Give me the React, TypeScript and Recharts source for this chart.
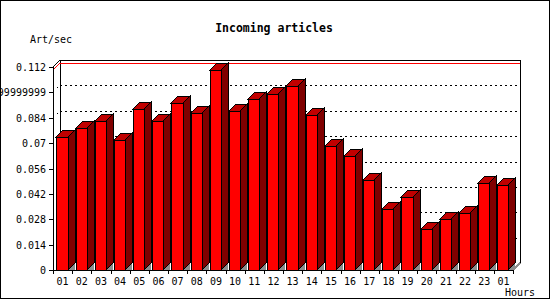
import React from 'react';
import { BarChart, Bar, XAxis, YAxis, ReferenceLine, ReferenceArea } from 'recharts';

const HOURS = ['01','02','03','04','05','06','07','08','09','10','11','12','13','14','15','16','17','18','19','20','21','22','23','01'];
const RATES = [0.0733,0.0783,0.0823,0.0718,0.0888,0.0823,0.0923,0.0867,0.1105,0.0879,0.0945,0.0972,0.1017,0.0856,0.0685,0.0630,0.0497,0.0337,0.0403,0.0227,0.0280,0.0315,0.0481,0.0470];
const Y_TICKS = [0,0.014,0.028,0.042,0.056,0.07,0.084,0.098,0.112];
const Y_TICK_LABELS = ['0','0.014','0.028','0.042','0.056','0.07','0.084','0.09799999999999999','0.112'];
const TITLE = 'Incoming articles';
const Y_UNIT = 'Art/sec';
const X_UNIT = 'Hours';

const W = 550;
const H = 300;
const MARGIN = { top: 67, right: 37, bottom: 10, left: 0 };
const Y_AXIS_W = 53;
const X_AXIS_H = 20;
const PLOT_LEFT = MARGIN.left + Y_AXIS_W;
const PLOT_W = W - PLOT_LEFT - MARGIN.right;
const PLOT_BOTTOM = H - MARGIN.bottom - X_AXIS_H;
const DEPTH = 7;
const FONT = "'DejaVu Sans Mono', 'Liberation Mono', monospace";
const MAX_RATE = Math.max(...RATES);

const data = RATES.map((rate, i) => ({ slot: i, rate }));

function Bar3D(props: any) {
  const { x, y, width, height } = props;
  if (x == null || y == null) return null;
  const fx = Math.round(x + width * 0.177);
  const fxR = Math.round(x + width * 0.767);
  const top = Math.round(y);
  const yb = Math.round(y + height);
  const D = DEPTH;
  return (
    <g shapeRendering="crispEdges">
      <polygon points={`${fxR},${yb} ${fxR + D},${yb - D} ${fxR + D},${yb}`} fill="#8c8c8c" stroke="none" />
      <polygon points={`${fxR},${top} ${fxR + D},${top - D} ${fxR + D},${yb - D} ${fxR},${yb}`} fill="#800000" stroke="#000" strokeWidth={1} />
      <polygon points={`${fx},${top} ${fx + D},${top - D} ${fxR + D},${top - D} ${fxR},${top}`} fill="#c00000" stroke="#000" strokeWidth={1} />
      <rect x={fx} y={top} width={fxR - fx} height={yb - top} fill="#ff0000" stroke="#000" strokeWidth={1} />
    </g>
  );
}

function BackWall(props: any) {
  const { x, y, width, height } = props;
  if (x == null) return null;
  const D = DEPTH;
  const l = Math.round(x), t = Math.round(y), r = Math.round(x + width), b = Math.round(y + height);
  return (
    <g shapeRendering="crispEdges" fill="none">
      <line x1={l + D} y1={t - D} x2={r + D} y2={t - D} stroke="#000" />
      <line x1={r + D} y1={t - D} x2={r + D} y2={b - D} stroke="#000" />
      <line x1={l + D} y1={t - D} x2={l + D} y2={b - D} stroke="#000" />
      <line x1={l} y1={t} x2={l + D} y2={t - D} stroke="#000" />
      <line x1={r} y1={b} x2={r + D} y2={b - D} stroke="#8c8c8c" strokeWidth={2} />
    </g>
  );
}

function GridShape(props: any) {
  const { x1, y1, x2 } = props;
  if (x1 == null) return null;
  const D = DEPTH;
  const l = Math.round(Math.min(x1, x2)), r = Math.round(Math.max(x1, x2)), yy = Math.round(y1);
  return (
    <polyline shapeRendering="crispEdges" points={`${l},${yy} ${l + D},${yy - D} ${r + D},${yy - D}`} fill="none" stroke="#000" strokeDasharray="2 3" />
  );
}

function MaxShape(props: any) {
  const { x1, y1, x2 } = props;
  if (x1 == null) return null;
  const D = DEPTH;
  const l = Math.round(Math.min(x1, x2)), r = Math.round(Math.max(x1, x2)), yy = Math.round(y1);
  return (
    <polyline shapeRendering="crispEdges" points={`${l},${yy} ${l + D},${yy - D} ${r + D},${yy - D}`} fill="none" stroke="#ff0000" />
  );
}

function YTick(props: any) {
  const { y, index, payload } = props;
  const i = index != null ? index : Y_TICKS.indexOf(payload.value);
  const yy = Math.round(y);
  return (
    <g>
      <line x1={PLOT_LEFT - 4} y1={yy} x2={PLOT_LEFT} y2={yy} stroke="#000" shapeRendering="crispEdges" />
      <text x={PLOT_LEFT - 7} y={yy} textAnchor="end" dominantBaseline="central" fontFamily={FONT} fontSize={10} fill="#000">
        {Y_TICK_LABELS[i]}
      </text>
    </g>
  );
}

function XTick(props: any) {
  const { x, index, payload } = props;
  const i = index != null ? index : payload.index;
  const bw = PLOT_W / HOURS.length;
  const left = Math.round(x - bw / 2);
  const right = Math.round(x + bw / 2);
  return (
    <g>
      <line x1={left} y1={PLOT_BOTTOM} x2={left} y2={PLOT_BOTTOM + 4} stroke="#000" shapeRendering="crispEdges" />
      {i === HOURS.length - 1 && (
        <line x1={right} y1={PLOT_BOTTOM} x2={right} y2={PLOT_BOTTOM + 4} stroke="#000" shapeRendering="crispEdges" />
      )}
      <text x={x} y={PLOT_BOTTOM + 11} textAnchor="middle" dominantBaseline="central" fontFamily={FONT} fontSize={10} fill="#000">
        {HOURS[i]}
      </text>
    </g>
  );
}

export default function App() {
  return (
    <div style={{ position: 'absolute', left: 0, top: 0, width: W, height: H, background: '#fff' }}>
      <BarChart width={W} height={H} data={data} margin={MARGIN} barCategoryGap={0} barGap={0}>
        <ReferenceArea y1={0} y2={Y_TICKS[Y_TICKS.length - 1]} shape={(p: any) => <BackWall {...p} />} zIndex={50} />
        {Y_TICKS.slice(1, -1).map((t) => (
          <ReferenceLine key={t} y={t} shape={(p: any) => <GridShape {...p} />} zIndex={50} />
        ))}
        <ReferenceLine y={MAX_RATE} shape={(p: any) => <MaxShape {...p} />} zIndex={50} />
        <XAxis dataKey="slot" type="category" height={X_AXIS_H} interval={0} tickLine={false}
          axisLine={{ stroke: '#000', shapeRendering: 'crispEdges' }} tick={<XTick />} />
        <YAxis domain={[0, Y_TICKS[Y_TICKS.length - 1]]} ticks={Y_TICKS} width={Y_AXIS_W} interval={0}
          tickLine={false} axisLine={{ stroke: '#000', shapeRendering: 'crispEdges' }} tick={<YTick />} />
        <Bar dataKey="rate" isAnimationActive={false} shape={(p: any) => <Bar3D {...p} />} />
      </BarChart>
      <svg width={W} height={H} style={{ position: 'absolute', left: 0, top: 0, pointerEvents: 'none' }}>
        <rect x={0.5} y={0.5} width={549} height={298} fill="none" stroke="#000" />
        <text x={274} y={28} textAnchor="middle" dominantBaseline="central" fontFamily={FONT} fontWeight="bold" fontSize={11.5} fill="#000">{TITLE}</text>
        <text x={30} y={39} dominantBaseline="central" fontFamily={FONT} fontSize={10} fill="#000">{Y_UNIT}</text>
        <text x={505} y={292} dominantBaseline="central" fontFamily={FONT} fontSize={10} fill="#000">{X_UNIT}</text>
      </svg>
    </div>
  );
}
